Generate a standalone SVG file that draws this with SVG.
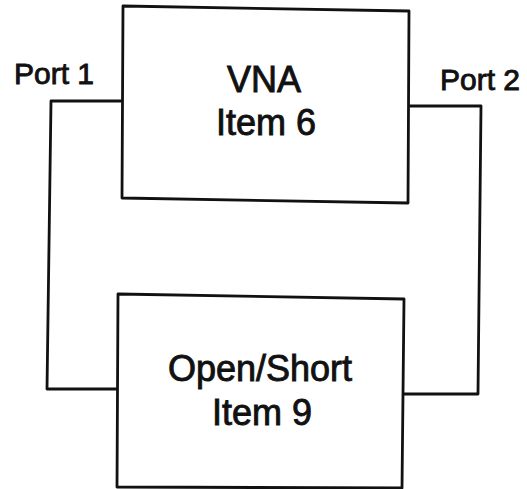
<svg xmlns="http://www.w3.org/2000/svg" width="527" height="489" viewBox="0 0 527 489">
  <style>
    .box { fill: #ffffff; stroke: #111111; stroke-width: 2.8; stroke-linejoin: round; }
    .wire { fill: none; stroke: #111111; stroke-width: 2.8; stroke-linejoin: round; }
    .lbl { font-family: "Liberation Sans", Arial, sans-serif; fill: #111111; stroke: #111111; stroke-width: 0.9; }
    .big { font-size: 36px; text-anchor: middle; }
    .port { font-size: 30px; }
  </style>
  <rect width="527" height="489" fill="#ffffff"/>

  <!-- cables between the analyser ports and the fixture -->
  <g id="connectors">
    <polyline class="wire" points="122,101 51,101 47,389 118,389"/>
    <polyline class="wire" points="408,106 481,106 478,394 404,394"/>
  </g>

  <g id="vna">
    <polygon class="box" points="123,6 409,11 408,203 122,198"/>
    <text class="lbl big" x="264" y="92">VNA</text>
    <text class="lbl big" x="266" y="135">Item 6</text>
  </g>

  <g id="fixture">
    <polygon class="box" points="118,294 404,299 402,488 117,487"/>
    <text class="lbl big" x="260" y="381">Open/Short</text>
    <text class="lbl big" x="262" y="425">Item 9</text>
  </g>

  <g id="port-labels">
    <text class="lbl port" x="14" y="84">Port 1</text>
    <text class="lbl port" x="440" y="90">Port 2</text>
  </g>
</svg>
